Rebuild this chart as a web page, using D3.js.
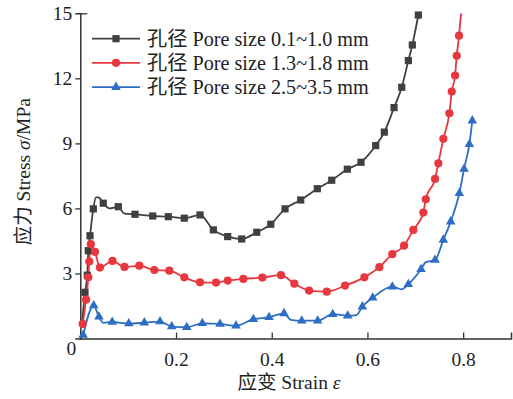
<!DOCTYPE html>
<html>
<head>
<meta charset="utf-8">
<script src="https://cdn.jsdelivr.net/npm/d3@7"></script>
<style>
  body { margin: 0; background: #fff; }
  svg { display: block; }
</style>
</head>
<body>
<svg id="chart" width="513" height="399"></svg>
<script>
// Legend labels and colours for the three pore-size groups
const seriesNames = ["孔径 Pore size 0.1~1.0 mm", "孔径 Pore size 1.3~1.8 mm", "孔径 Pore size 2.5~3.5 mm"];
const seriesColors = ["#404040", "#e8383f", "#2d6ec4"];
const markerShapes = ["square", "circle", "triangle"];

// Axis ticks
const xTicks = [0.2, 0.4, 0.6, 0.8];
const yTicks = [3, 6, 9, 12, 15];

// 0.1~1.0 mm: marked points
const strainSmall = [0.0098, 0.0146, 0.0167, 0.0203, 0.0272, 0.048, 0.0794, 0.1143, 0.1513, 0.1839, 0.2173, 0.2502, 0.278, 0.308, 0.3373, 0.3687, 0.398, 0.4278, 0.4606, 0.4953, 0.5254, 0.558, 0.5866, 0.6173, 0.6353, 0.6556, 0.6717, 0.6855, 0.6938, 0.7064];
const stressSmall = [2.13, 2.92, 4.05, 4.74, 5.98, 6.24, 6.08, 5.73, 5.65, 5.62, 5.55, 5.70, 5.01, 4.70, 4.59, 4.90, 5.27, 5.98, 6.39, 6.91, 7.30, 7.81, 8.13, 8.90, 9.52, 10.65, 11.59, 12.82, 13.54, 14.92];
// 0.1~1.0 mm: unmarked curve vertices
const strainSmallLine = [0.003, 0.033, 0.039, 0.061, 0.092];
const stressSmallLine = [0.5, 6.52, 6.50, 6.0, 5.76];

// 1.3~1.8 mm
const strainMid = [0.005, 0.012, 0.0167, 0.0188, 0.022, 0.0307, 0.041, 0.0672, 0.0923, 0.1233, 0.1547, 0.186, 0.2173, 0.2502, 0.2836, 0.308, 0.3407, 0.3804, 0.4194, 0.4472, 0.478, 0.515, 0.5532, 0.5936, 0.6249, 0.652, 0.6765, 0.696, 0.7168, 0.7219, 0.7413, 0.7482, 0.7586, 0.7712, 0.7762, 0.7831, 0.7866, 0.7914];
const stressMid = [0.67, 1.79, 2.82, 3.55, 4.35, 4.00, 3.27, 3.58, 3.30, 3.36, 3.16, 3.13, 2.82, 2.59, 2.58, 2.67, 2.75, 2.81, 2.92, 2.53, 2.21, 2.16, 2.44, 2.82, 3.29, 3.89, 4.28, 5.01, 5.81, 6.42, 7.36, 8.08, 9.21, 10.39, 11.39, 12.13, 13.04, 13.97];
const strainMidLine = [0.7956];
const stressMidLine = [15.0];

// 2.5~3.5 mm
const strainLarge = [0.006, 0.028, 0.039, 0.0667, 0.1013, 0.1338, 0.1666, 0.191, 0.2224, 0.255, 0.292, 0.3254, 0.3616, 0.3944, 0.4257, 0.4627, 0.496, 0.5275, 0.5588, 0.5894, 0.611, 0.652, 0.6855, 0.712, 0.7413, 0.7586, 0.774, 0.792, 0.8019, 0.813, 0.8192];
const stressLarge = [0.16, 1.52, 1.0, 0.76, 0.69, 0.73, 0.78, 0.55, 0.52, 0.70, 0.67, 0.59, 0.89, 0.98, 1.16, 0.82, 0.82, 1.12, 1.05, 1.47, 1.88, 2.39, 2.50, 3.19, 3.62, 4.55, 5.39, 6.70, 7.82, 8.96, 10.05];
const strainLargeLine = [0.048, 0.44, 0.577, 0.672, 0.722];
const stressLargeLine = [0.72, 0.86, 1.08, 2.27, 3.52];

const zip = (xs, ys) => xs.map((x, i) => ({ x, y: ys[i] }));
const series = [
  { marks: zip(strainSmall, stressSmall), extra: zip(strainSmallLine, stressSmallLine) },
  { marks: zip(strainMid, stressMid), extra: zip(strainMidLine, stressMidLine) },
  { marks: zip(strainLarge, stressLarge), extra: zip(strainLargeLine, stressLargeLine) }
].map((s, i) => ({
  ...s,
  name: seriesNames[i],
  color: seriesColors[i],
  shape: markerShapes[i],
  line: s.marks.concat(s.extra).sort((a, b) => a.x - b.x)
}));

const svg = d3.select("#chart");
const margin = { left: 80.3, top: 13.3, right: 2, bottom: 60.5 };
const width = 513 - margin.left - margin.right;
const height = 399 - margin.top - margin.bottom;

const x = d3.scaleLinear().domain([0, 0.9]).range([margin.left, margin.left + width]);
const y = d3.scaleLinear().domain([0, 15]).range([margin.top + height, margin.top]);

const textColor = "#222";
const font = "'Liberation Serif', 'Times New Roman', 'Noto Sans CJK SC', serif";

// Axes
const axisColor = "#333";
const xAxis = svg.append("g")
  .attr("transform", `translate(0,${y(0)})`)
  .call(d3.axisBottom(x).tickValues(xTicks).tickSize(-6).tickPadding(14).tickFormat(d3.format(".1f")));
const yAxis = svg.append("g")
  .attr("transform", `translate(${x(0)},0)`)
  .call(d3.axisLeft(y).tickValues(yTicks).tickSize(5).tickPadding(3).tickFormat(d3.format("d")));
[xAxis, yAxis].forEach(g => {
  g.attr("font-family", font);
  g.select(".domain").attr("stroke", axisColor).attr("stroke-width", 1.5);
  g.selectAll(".tick line").attr("stroke", axisColor).attr("stroke-width", 1.3);
  g.selectAll(".tick text").attr("font-size", 19.5).attr("fill", textColor);
});
xAxis.selectAll(".tick text").attr("dy", "0.71em");
// top tick of the stress axis turns inward
yAxis.selectAll(".tick").filter(d => d === 15).select("line").attr("x2", 7);
// shared origin label
svg.append("text").attr("x", x(0) - 9).attr("y", y(0) + 16)
  .attr("font-family", font)
  .attr("text-anchor", "middle").attr("font-size", 19.5).attr("fill", textColor).text("0");

// Axis titles
svg.append("text")
  .attr("x", 289).attr("y", 389).attr("text-anchor", "middle").attr("font-size", 19.5)
  .attr("font-family", font).attr("fill", textColor)
  .call(t => {
    t.append("tspan").text("应变 Strain ");
    t.append("tspan").attr("font-style", "italic").text("ε");
  });
svg.append("text")
  .attr("transform", "translate(30,171.7) rotate(-90)")
  .attr("text-anchor", "middle").attr("font-size", 19.5)
  .attr("font-family", font).attr("fill", textColor)
  .call(t => {
    t.append("tspan").text("应力 Stress ");
    t.append("tspan").attr("font-style", "italic").text("σ");
    t.append("tspan").text("/MPa");
  });

// Curves
const line = d3.line().x(d => x(d.x)).y(d => y(d.y)).curve(d3.curveMonotoneX);
const plot = svg.append("g");
series.forEach(s => {
  plot.append("path").datum(s.line)
    .attr("fill", "none").attr("stroke", s.color).attr("stroke-width", 1.8)
    .attr("stroke-linejoin", "round").attr("d", line);
});

function drawMarker(g, shape, color, cx, cy) {
  if (shape === "square") {
    g.append("rect").attr("x", cx - 3.6).attr("y", cy - 3.6).attr("width", 7.2).attr("height", 7.2).attr("fill", color);
  } else if (shape === "circle") {
    g.append("circle").attr("cx", cx).attr("cy", cy).attr("r", 4.1).attr("fill", color);
  } else {
    g.append("path").attr("transform", `translate(${cx},${cy})`)
      .attr("d", d3.symbol(d3.symbolTriangle, 40)()).attr("fill", color);
  }
}
series.forEach(s => {
  const g = plot.append("g");
  s.marks.forEach(d => drawMarker(g, s.shape, s.color, x(d.x), y(d.y)));
});

// Legend
const legendRows = [38.7, 62.8, 87.1];
series.forEach((s, i) => {
  const g = svg.append("g").attr("transform", `translate(0,${legendRows[i]})`);
  g.append("line").attr("x1", 92).attr("x2", 140).attr("y1", 0).attr("y2", 0)
    .attr("stroke", s.color).attr("stroke-width", 1.8);
  drawMarker(g, s.shape, s.color, 116, 0);
  g.append("text").attr("x", 147).attr("y", 0).attr("dy", "0.34em")
    .attr("font-family", font).attr("fill", textColor)
    .attr("font-size", 20.2).text(s.name);
});
</script>
</body>
</html>
